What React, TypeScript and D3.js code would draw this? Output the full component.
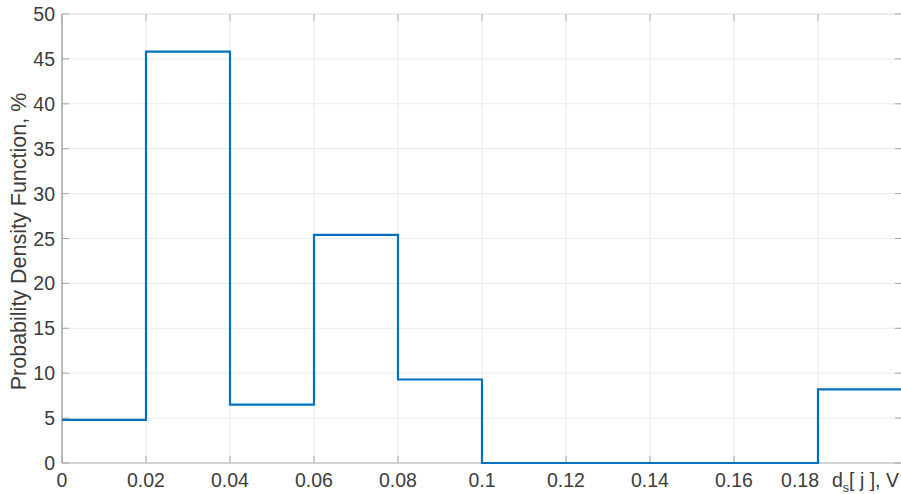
import React from "react";
import * as d3 from "d3";

const binEdges = [0, 0.02, 0.04, 0.06, 0.08, 0.1, 0.12, 0.14, 0.16, 0.18, 0.2];
const pdfValues = [4.8, 45.8, 6.5, 25.4, 9.3, 0, 0, 0, 0, 8.2];
const xTicks = [0, 0.02, 0.04, 0.06, 0.08, 0.1, 0.12, 0.14, 0.16, 0.18];
const yTicks = [0, 5, 10, 15, 20, 25, 30, 35, 40, 45, 50];

export default function App() {
  const W = 901, H = 494;
  const x = d3.scaleLinear().domain([0, 0.2]).range([62, 902]);
  const y = d3.scaleLinear().domain([0, 50]).range([463, 14]);

  const pts: [number, number][] = [];
  pdfValues.forEach((v, i) => {
    pts.push([binEdges[i], v]);
    pts.push([binEdges[i + 1], v]);
  });
  const line = d3.line<[number, number]>().x(d => x(d[0])).y(d => y(d[1]));

  const font = "Liberation Sans, Arial, Helvetica, sans-serif";
  const fmt = (t: number) => (t === 0 ? "0" : String(+t.toFixed(2)));
  const lastTick = xTicks[xTicks.length - 1];
  const fs = 19.5;

  return (
    <svg width={W} height={H} style={{ position: "absolute", left: 0, top: 0, background: "#fff" }} fontFamily={font}>
      <rect x={0} y={0} width={W} height={H} fill="#fff" />
      {/* grid */}
      {xTicks.map(t => (
        <line key={"gx" + t} x1={x(t)} x2={x(t)} y1={y(0)} y2={y(50)} stroke="#ebebeb" strokeWidth={1} />
      ))}
      {yTicks.map(t => (
        <line key={"gy" + t} x1={x(0)} x2={x(0.2)} y1={y(t)} y2={y(t)} stroke="#ebebeb" strokeWidth={1} />
      ))}
      {/* top border */}
      <line x1={x(0)} x2={x(0.2)} y1={y(50)} y2={y(50)} stroke="#e6e6e6" strokeWidth={1} />
      {/* axes */}
      <line x1={x(0)} x2={x(0)} y1={y(0)} y2={y(50)} stroke="#a6a6a6" strokeWidth={1.5} />
      <line x1={x(0)} x2={x(0.2)} y1={y(0)} y2={y(0)} stroke="#c8c8c8" strokeWidth={1.5} />
      {/* ticks */}
      {yTicks.map(t => (
        <g key={"ty" + t}>
          <line x1={x(0)} x2={x(0) + 7} y1={y(t)} y2={y(t)} stroke="#a6a6a6" strokeWidth={1} />
          <line x1={x(0.2)} x2={x(0.2) - 7} y1={y(t)} y2={y(t)} stroke="#a6a6a6" strokeWidth={1} />
          <text x={55} y={y(t)} dy="0.36em" textAnchor="end" fontSize={fs} fill="#3c3c3c">{t}</text>
        </g>
      ))}
      {xTicks.map(t => (
        <g key={"tx" + t}>
          <line x1={x(t)} x2={x(t)} y1={y(0)} y2={y(0) - 7} stroke="#a6a6a6" strokeWidth={1} />
          <line x1={x(t)} x2={x(t)} y1={y(50)} y2={y(50) + 7} stroke="#b0b0b0" strokeWidth={1} />
          <text
            x={t === lastTick ? x(t) + 1 : x(t)}
            y={487}
            textAnchor={t === lastTick ? "end" : "middle"}
            fontSize={fs}
            fill="#3c3c3c"
          >
            {fmt(t)}
          </text>
        </g>
      ))}
      {/* data */}
      <path d={line(pts) || ""} fill="none" stroke="#0072BD" strokeWidth={2.2} />
      {/* labels */}
      <text x={832} y={487} fontSize={fs} fill="#3c3c3c">
        d<tspan fontSize={12.5} dy={5}>s</tspan><tspan dy={-5}>[ j ], V</tspan>
      </text>
      <text transform={`translate(25.5, 241.5) rotate(-90)`} textAnchor="middle" fontSize={21.5} fill="#3c3c3c">
        Probability Density Function, %
      </text>
    </svg>
  );
}
